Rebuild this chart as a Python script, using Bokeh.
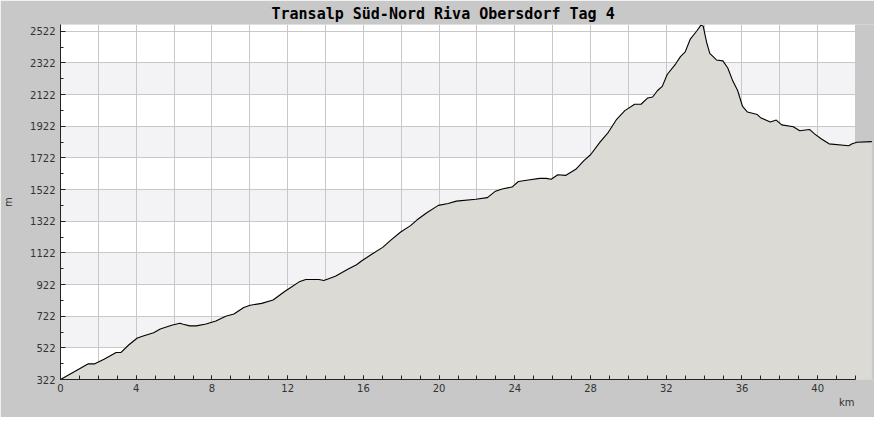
from bokeh.plotting import figure
from bokeh.models import FixedTicker, Range1d, Title
from bokeh.embed import file_html
from bokeh.resources import INLINE

# ---- data ----
km = [0.0, 0.75, 1.47, 1.81, 2.3, 2.94, 3.2, 3.6, 4.06, 4.41, 4.92, 5.27, 5.87, 6.31,
      6.48, 6.83, 7.17, 7.69, 8.21, 8.73, 9.16, 9.68, 10.02, 10.63, 11.23, 11.84, 12.1,
      12.61, 12.96, 13.65, 13.91, 14.52, 15.2, 15.64, 15.9, 16.42, 17.02, 17.45, 17.97,
      18.49, 18.84, 19.35, 19.96, 20.48, 20.91, 21.94, 22.55, 22.98, 23.33, 23.85, 24.19,
      24.71, 25.31, 25.66, 25.92, 26.27, 26.7, 27.22, 27.65, 28.0, 28.51, 28.94, 29.38,
      29.81, 30.33, 30.67, 31.02, 31.28, 31.54, 31.79, 32.05, 32.49, 32.75, 33.0, 33.27,
      33.61, 33.83, 33.95, 34.13, 34.3, 34.65, 34.99, 35.25, 35.51, 35.77, 36.03, 36.29,
      36.81, 36.98, 37.5, 37.81, 38.1, 38.71, 39.05, 39.57, 39.83, 40.18, 40.6, 41.64,
      41.82, 42.08, 42.86]
elev = [322, 372, 421, 421, 450, 493, 493, 540, 584, 598, 618, 641, 665, 677,
        671, 661, 661, 673, 692, 722, 736, 777, 791, 803, 824, 878, 899,
        939, 954, 954, 948, 974, 1020, 1047, 1071, 1112, 1157, 1203, 1254,
        1294, 1331, 1376, 1422, 1434, 1449, 1461, 1471, 1512, 1526, 1538, 1573,
        1583, 1593, 1593, 1587, 1616, 1612, 1650, 1705, 1742, 1823, 1884, 1966,
        2021, 2061, 2061, 2101, 2107, 2148, 2174, 2249, 2315, 2362, 2392, 2473,
        2524, 2561, 2555, 2453, 2382, 2341, 2335, 2290, 2209, 2148, 2047, 2012,
        1996, 1976, 1949, 1961, 1931, 1919, 1894, 1902, 1874, 1843, 1811, 1799,
        1811, 1821, 1825]

y_ticks = [322, 522, 722, 922, 1122, 1322, 1522, 1722, 1922, 2122, 2322, 2522]
y_minor = [322 + 100 * i for i in range(23)]
x_ticks = [0, 4, 8, 12, 16, 20, 24, 28, 32, 36, 40]
x_minor = list(range(0, 43))
x_grid = list(range(2, 43, 2))
x_axis_end = 42
x_view_end = 43.0
y_top = 2565
title_text = "Transalp Süd-Nord Riva Obersdorf Tag 4"
x_label = "km"
y_label = "m"

GRAY = "#c8c8c8"

p = figure(width=874, height=417, output_backend="svg", toolbar_location=None,
           x_range=Range1d(0, x_view_end), y_range=Range1d(y_ticks[0], y_top),
           min_border_left=59, min_border_right=0, min_border_top=24, min_border_bottom=38,
           background_fill_color=GRAY, border_fill_color=GRAY, outline_line_color=None)

# plot area background (white) and alternating bands
p.quad(left=0, right=x_axis_end, bottom=y_ticks[0], top=y_top,
       fill_color="white", line_color=None, level="image")
p.quad(left=0, right=x_axis_end, bottom=y_ticks[1::2], top=y_ticks[2::2],
       fill_color="#f3f2f5", line_color=None, level="image")

# grids
p.xgrid.ticker = FixedTicker(ticks=x_grid)
p.ygrid.ticker = FixedTicker(ticks=y_ticks)
for g in (p.xgrid, p.ygrid):
    g.grid_line_color = GRAY
    g.grid_line_width = 1

# profile
p.varea(x=km, y1=y_ticks[0], y2=elev, fill_color="#dbdad5")
p.line(km, elev, line_color="black", line_width=1.1)

# axes
p.xaxis.ticker = FixedTicker(ticks=x_ticks, minor_ticks=x_minor)
p.xaxis.bounds = (0, x_axis_end)
p.yaxis.ticker = FixedTicker(ticks=y_ticks, minor_ticks=y_minor)
for ax in (p.xaxis, p.yaxis):
    ax.axis_line_color = "#222222"
    ax.axis_line_width = 1
    ax.major_tick_line_color = "#222222"
    ax.minor_tick_line_color = "#222222"
    ax.major_tick_out = 0
    ax.minor_tick_out = 0
    ax.major_label_text_font = "DejaVu Sans"
    ax.major_label_text_font_size = "10px"
    ax.major_label_text_color = "#333333"
p.xaxis.major_tick_in = 4
p.xaxis.minor_tick_in = 4
p.xaxis.major_label_standoff = 4
p.yaxis.major_tick_in = 5
p.yaxis.minor_tick_in = 3
p.yaxis.major_label_standoff = 5
p.yaxis.axis_label = y_label
p.yaxis.axis_label_text_font = "DejaVu Sans"
p.yaxis.axis_label_text_font_size = "10px"
p.yaxis.axis_label_text_font_style = "normal"
p.yaxis.axis_label_text_color = "#333333"
p.yaxis.axis_label_standoff = 13

# "km" label, right-aligned below the x axis
p.add_layout(Title(text=x_label, align="right", offset=20, standoff=0,
                   text_font="DejaVu Sans", text_font_size="10px",
                   text_font_style="normal", text_color="#333333"), "below")

# title
p.title.text = title_text
p.title.text_font = "DejaVu Sans Mono"
p.title.text_font_style = "bold"
p.title.text_font_size = "15px"
p.title.text_color = "black"
p.title.align = "left"
p.title.offset = 211
p.title.standoff = 3

open("out.html", "w").write(file_html(p, INLINE))
